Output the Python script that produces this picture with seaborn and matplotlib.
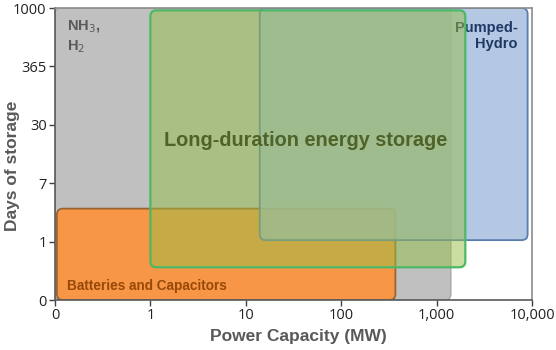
import numpy as np
import matplotlib
matplotlib.use("Agg")
import matplotlib.pyplot as plt
from matplotlib.patches import FancyBboxPatch
import seaborn as sns

# ---- data ----
x_ticks = [0, 1, 10, 100, 1000, 10000]
x_tick_labels = ["0", "1", "10", "100", "1,000", "10,000"]
y_ticks = [0, 1, 7, 30, 365, 1000]
y_tick_labels = ["0", "1", "7", "30", "365", "1000"]

categories = ["NH3, H2", "Batteries and Capacitors", "Pumped-Hydro", "Long-duration energy storage"]
power_min_mw = [0, 0.02, 14, 1]
power_max_mw = [1410, 370, 9000, 2000]
days_min = [0, 0, 1.05, 0.56]
days_max = [1000, 3, 1000, 960]

# ---- style ----
sns.set_theme(style="ticks")
plt.rcParams["font.family"] = ["Open Sans", "DejaVu Sans"]

def to_pos(v, ticks):
    if v <= ticks[1]:
        return v / ticks[1]
    return float(np.interp(np.log(v), np.log(ticks[1:]), np.arange(1, len(ticks))))

fig = plt.figure(figsize=(5.56, 3.5), dpi=100)
ax = fig.add_axes([55 / 556, 50 / 350, (532 - 55) / 556, (300 - 8) / 350])
ax.set_xlim(0, 5)
ax.set_ylim(0, 5)

px_x = (532 - 55) / 5.0
px_y = (300 - 8) / 5.0
aspect = px_x / px_y
r = 6 / px_x

styles = {
    "NH3, H2": dict(fc=(0.753, 0.753, 0.753, 1.0), ec="#a6a6a6", lw=1.0, z=1),
    "Batteries and Capacitors": dict(fc=(0.969, 0.588, 0.275, 1.0), ec="#9c6430", lw=1.3, z=2),
    "Pumped-Hydro": dict(fc=(0.63, 0.725, 0.867, 0.8), ec="#5a7cae", lw=1.3, z=3),
    "Long-duration energy storage": dict(fc=(0.59, 0.75, 0.28, 0.5), ec="#4cb866", lw=1.6, z=5),
}

for cat, x0, x1, y0, y1 in zip(categories, power_min_mw, power_max_mw, days_min, days_max):
    px0, px1 = to_pos(x0, x_ticks), to_pos(x1, x_ticks)
    py0, py1 = to_pos(y0, y_ticks), to_pos(y1, y_ticks)
    s = styles[cat]
    patch = FancyBboxPatch((px0, py0), px1 - px0, py1 - py0,
                           boxstyle=f"round,pad=0,rounding_size={r}",
                           mutation_aspect=aspect,
                           facecolor=s["fc"], edgecolor=s["ec"], linewidth=s["lw"],
                           zorder=s["z"])
    ax.add_patch(patch)

def dpos(xpx, ypx):
    return ((xpx - 55) / px_x, (300 - ypx) / px_y)

bold = ["Liberation Sans", "DejaVu Sans"]
x, y = dpos(67, 37)
ax.text(x, y, "NH$_3$,\nH$_2$", color="#595959", fontsize=10.5, fontweight="bold",
        family=bold, ha="left", va="center", linespacing=1.3, zorder=4)
x, y = dpos(518, 36)
ax.text(x, y, "Pumped-\nHydro", color="#1f3864", fontsize=10.5, fontweight="bold",
        family=bold, ha="right", va="center", linespacing=1.25, zorder=4)
x, y = dpos(306, 141)
ax.text(x, y, "Long-duration energy storage", color="#4f6228", fontsize=14.3,
        fontweight="bold", family=bold, ha="center", va="center", zorder=6)
x, y = dpos(67, 286)
ax.text(x, y, "Batteries and Capacitors", color="#984807", fontsize=9.8,
        fontweight="bold", family=bold, ha="left", va="center", zorder=6)

ax.set_xticks(range(len(x_ticks)))
ax.set_xticklabels(x_tick_labels)
ax.set_yticks(range(len(y_ticks)))
ax.set_yticklabels(y_tick_labels)
ax.tick_params(axis="both", labelsize=10.5, colors="#404040", length=4, width=1,
               direction="out", pad=2, labelcolor="#222222")

for side, sp in ax.spines.items():
    sp.set_visible(True)
    sp.set_linewidth(1.2)
    sp.set_color("#595959" if side in ("left", "bottom") else "#8c8c8c")
    sp.set_zorder(10)

ax.set_xlabel("Power Capacity (MW)", fontsize=12.5, fontweight="bold", color="#595959",
              family=bold)
ax.xaxis.set_label_coords((298 - 55) / 477, -(337 - 300) / 292)
ax.set_ylabel("Days of storage", fontsize=12.5, fontweight="bold", color="#595959",
              family=bold)
ax.yaxis.set_label_coords(-(55 - 13) / 477, (300 - 166) / 292)
ax.xaxis.label.set_va("center")
ax.yaxis.label.set_va("center")

fig.savefig("out.png", dpi=100)
